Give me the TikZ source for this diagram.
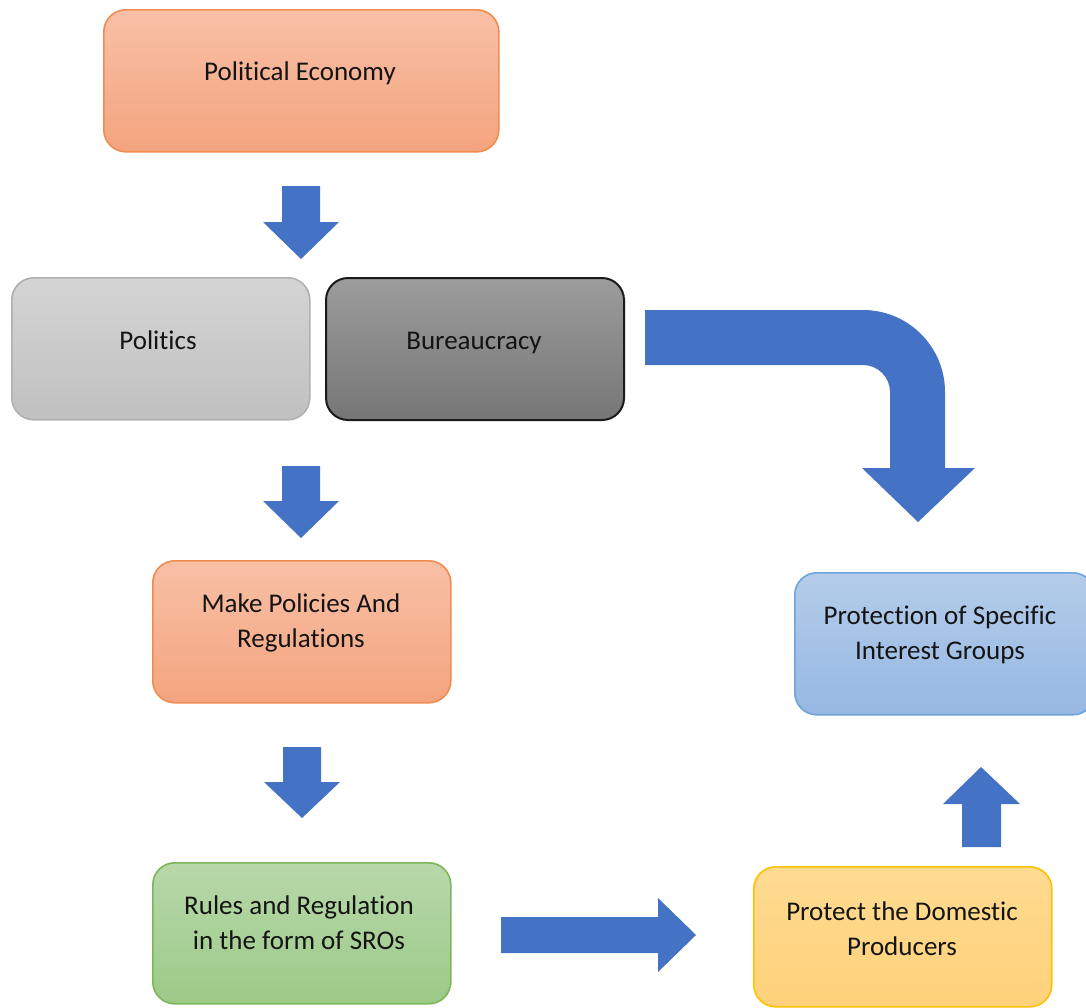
\documentclass[tikz,border=0pt]{standalone}
\usepackage{fontspec}
\setmainfont{Carlito}[Ligatures=NoCommon]
\begin{document}
\begin{tikzpicture}[x=1pt,y=-1pt,
  box/.style={rounded corners=22pt, line width=1.6pt, inner sep=0pt, anchor=north west},
  orangebox/.style={box, draw={rgb,255:red,240;green,140;blue,80}, top color={rgb,255:red,248;green,192;blue,166}, bottom color={rgb,255:red,244;green,164;blue,126}},
  lgraybox/.style={box, draw={rgb,255:red,176;green,176;blue,176}, top color={rgb,255:red,212;green,212;blue,212}, bottom color={rgb,255:red,192;green,192;blue,192}},
  dgraybox/.style={box, line width=2pt, draw={rgb,255:red,26;green,26;blue,26}, top color={rgb,255:red,156;green,156;blue,156}, bottom color={rgb,255:red,118;green,118;blue,118}},
  greenbox/.style={box, draw={rgb,255:red,125;green,181;blue,90}, top color={rgb,255:red,184;green,216;blue,170}, bottom color={rgb,255:red,156;green,202;blue,136}},
  yellowbox/.style={box, draw={rgb,255:red,255;green,192;blue,0}, top color={rgb,255:red,255;green,219;blue,145}, bottom color={rgb,255:red,255;green,209;blue,122}},
  bluebox/.style={box, draw={rgb,255:red,111;green,163;blue,218}, top color={rgb,255:red,180;green,204;blue,234}, bottom color={rgb,255:red,150;green,184;blue,226}},
  txt/.style={font=\fontsize{27}{35}\selectfont, align=center, text={rgb,255:red,20;green,20;blue,20}, inner sep=0pt},
  blockarrow/.style={fill={rgb,255:red,68;green,114;blue,196}, draw=none}
]
\useasboundingbox (0,0) rectangle (1086,1007);
\begin{scope}
\clip (0,0) rectangle (1086,1007);
% boxes
\node[orangebox, minimum width=395pt, minimum height=142pt] (pe) at (103,9) {};
\node[lgraybox, minimum width=298pt, minimum height=142pt] (pol) at (11,277) {};
\node[dgraybox, minimum width=298pt, minimum height=142pt] (bur) at (325,277) {};
\node[orangebox, minimum width=298pt, minimum height=142pt] (mp) at (152,560) {};
\node[greenbox, minimum width=298pt, minimum height=141pt] (rr) at (152,862) {};
\node[yellowbox, minimum width=298pt, minimum height=140pt] (pd) at (753,866) {};
\node[bluebox, minimum width=300pt, minimum height=142pt] (ps) at (794,572) {};
% texts
\node[txt] (pe-t) at (300,73) {\strut Political Economy};
\node[txt] (pol-t) at (158,342) {\strut Politics};
\node[txt] (bur-t) at (474,342) {\strut Bureaucracy};
\node[txt] (mp-t) at (301,623) {\strut Make Policies And\\\strut Regulations};
\node[txt] (rr-t) at (299,925) {\strut Rules and Regulation\\\strut in the form of SROs};
\node[txt] (pd-t) at (902,931) {\strut Protect the Domestic\\\strut Producers};
\node[txt] (ps-t) at (940,635) {\strut Protection of Specific\\\strut Interest Groups};
% block arrows
\fill[blockarrow] (282,186) -- (320,186) -- (320,222) -- (339,222) -- (301,259) -- (263,222) -- (282,222) -- cycle;
\fill[blockarrow] (282,466) -- (320,466) -- (320,501) -- (339,501) -- (301,538) -- (263,501) -- (282,501) -- cycle;
\fill[blockarrow] (283,747) -- (321,747) -- (321,782) -- (340,782) -- (302,818) -- (264,782) -- (283,782) -- cycle;
\fill[blockarrow] (501,917) -- (658,917) -- (658,898) -- (696,935) -- (658,972) -- (658,953) -- (501,953) -- cycle;
\fill[blockarrow] (962,847) -- (962,804) -- (943,804) -- (981,767) -- (1020,804) -- (1001,804) -- (1001,847) -- cycle;
\fill[blockarrow] (645,310) -- (863,310) .. controls (908.3,310) and (945,346.7) .. (945,392)
  -- (945,468) -- (975,468) -- (918,522) -- (862,468) -- (890,468) -- (890,392)
  .. controls (890,377.1) and (877.9,365) .. (863,365) -- (645,365) -- cycle;
\end{scope}
\end{tikzpicture}
\end{document}
